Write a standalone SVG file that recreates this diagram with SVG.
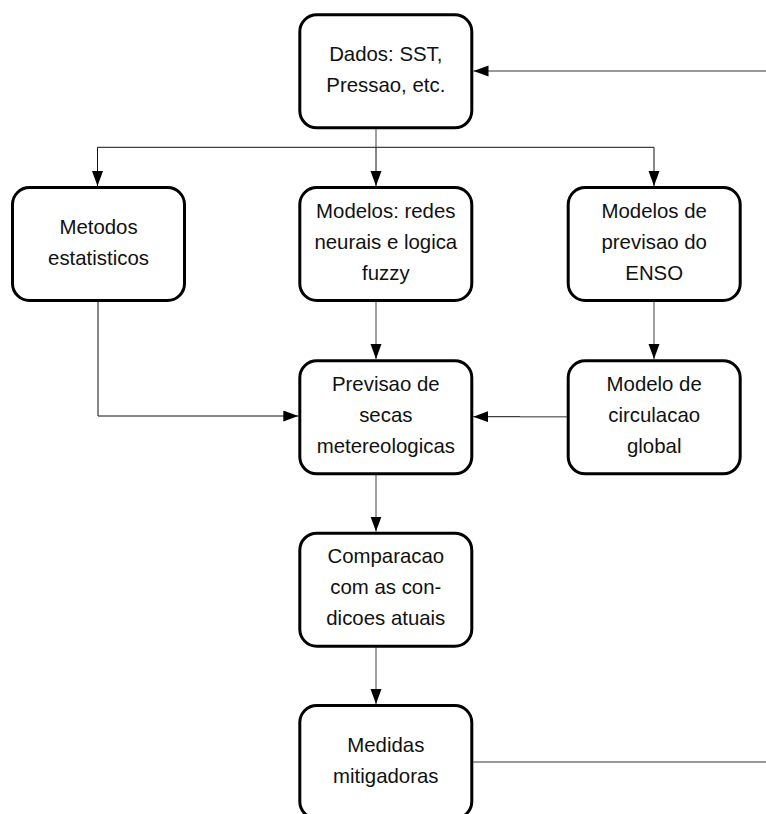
<svg xmlns="http://www.w3.org/2000/svg" width="766" height="814" viewBox="0 0 766 814">
<style>
.box{fill:#fff;stroke:#000;stroke-width:3}
.t{font-family:"Liberation Sans",Arial,sans-serif;font-size:20.4px;fill:#111;text-anchor:middle}
.g{fill:none;stroke:#777;stroke-width:1.4}
.k{fill:none;stroke:#111;stroke-width:1}
</style>
<defs>
<marker id="ah" markerUnits="userSpaceOnUse" markerWidth="16" markerHeight="12" refX="15" refY="5.5" orient="auto">
<path d="M0,0 L15,5.5 L0,11 z" fill="#000"/>
</marker>
</defs>
<rect width="766" height="814" fill="#fff"/>
<g id="connectors">
<line class="g" x1="766" y1="71" x2="473.5" y2="71" marker-end="url(#ah)"/>
<line class="g" x1="376" y1="129.3" x2="376" y2="147.3"/>
<line class="k" x1="97.5" y1="147.3" x2="654" y2="147.3"/>
<line class="k" x1="97.5" y1="147.3" x2="97.5" y2="186" marker-end="url(#ah)"/>
<line class="k" x1="376" y1="147.3" x2="376" y2="186" marker-end="url(#ah)"/>
<line class="k" x1="654" y1="147.3" x2="654" y2="186" marker-end="url(#ah)"/>
<line class="g" x1="376" y1="301.7" x2="376" y2="359" marker-end="url(#ah)"/>
<line class="g" x1="654" y1="301.7" x2="654" y2="359" marker-end="url(#ah)"/>
<polyline class="k" points="98,301.7 98,416 298.3,416" marker-end="url(#ah)"/>
<line class="g" x1="566.7" y1="416.7" x2="520" y2="416.7"/>
<line class="k" x1="520" y1="416.7" x2="473.3" y2="416.7" marker-end="url(#ah)"/>
<line class="g" x1="376" y1="475" x2="376" y2="531.5" marker-end="url(#ah)"/>
<line class="g" x1="376" y1="647.3" x2="376" y2="704" marker-end="url(#ah)"/>
<line class="g" x1="473.3" y1="762" x2="766" y2="762"/>
</g>
<g id="dados">
<rect class="box" x="299.8" y="14.8" width="172" height="113" rx="17"/>
<text class="t" x="385.8" y="60.8">Dados: SST,</text>
<text class="t" x="385.8" y="91.8">Pressao, etc.</text>
</g>
<g id="metodos">
<rect class="box" x="12.5" y="187.5" width="172" height="113" rx="17"/>
<text class="t" x="98.5" y="233.5">Metodos</text>
<text class="t" x="98.5" y="264.5">estatisticos</text>
</g>
<g id="modelos-redes">
<rect class="box" x="299.8" y="187.5" width="172" height="113" rx="17"/>
<text class="t" x="385.8" y="217.5">Modelos: redes</text>
<text class="t" x="385.8" y="248.5">neurais e logica</text>
<text class="t" x="385.8" y="279.5">fuzzy</text>
</g>
<g id="modelos-enso">
<rect class="box" x="568.2" y="187.5" width="172" height="113" rx="17"/>
<text class="t" x="654.2" y="217.5">Modelos de</text>
<text class="t" x="654.2" y="248.5">previsao do</text>
<text class="t" x="654.2" y="279.5">ENSO</text>
</g>
<g id="previsao">
<rect class="box" x="299.8" y="360.8" width="172" height="113" rx="17"/>
<text class="t" x="385.8" y="390.8">Previsao de</text>
<text class="t" x="385.8" y="421.8">secas</text>
<text class="t" x="385.8" y="452.8">metereologicas</text>
</g>
<g id="circulacao">
<rect class="box" x="568.2" y="360.8" width="172" height="113" rx="17"/>
<text class="t" x="654.2" y="390.8">Modelo de</text>
<text class="t" x="654.2" y="421.8">circulacao</text>
<text class="t" x="654.2" y="452.8">global</text>
</g>
<g id="comparacao">
<rect class="box" x="299.8" y="533.2" width="172" height="113" rx="17"/>
<text class="t" x="385.8" y="563.2">Comparacao</text>
<text class="t" x="385.8" y="594.2">com as con-</text>
<text class="t" x="385.8" y="625.2">dicoes atuais</text>
</g>
<g id="medidas">
<rect class="box" x="299.8" y="705.5" width="172" height="113" rx="17"/>
<text class="t" x="385.8" y="751.5">Medidas</text>
<text class="t" x="385.8" y="782.5">mitigadoras</text>
</g>
</svg>
